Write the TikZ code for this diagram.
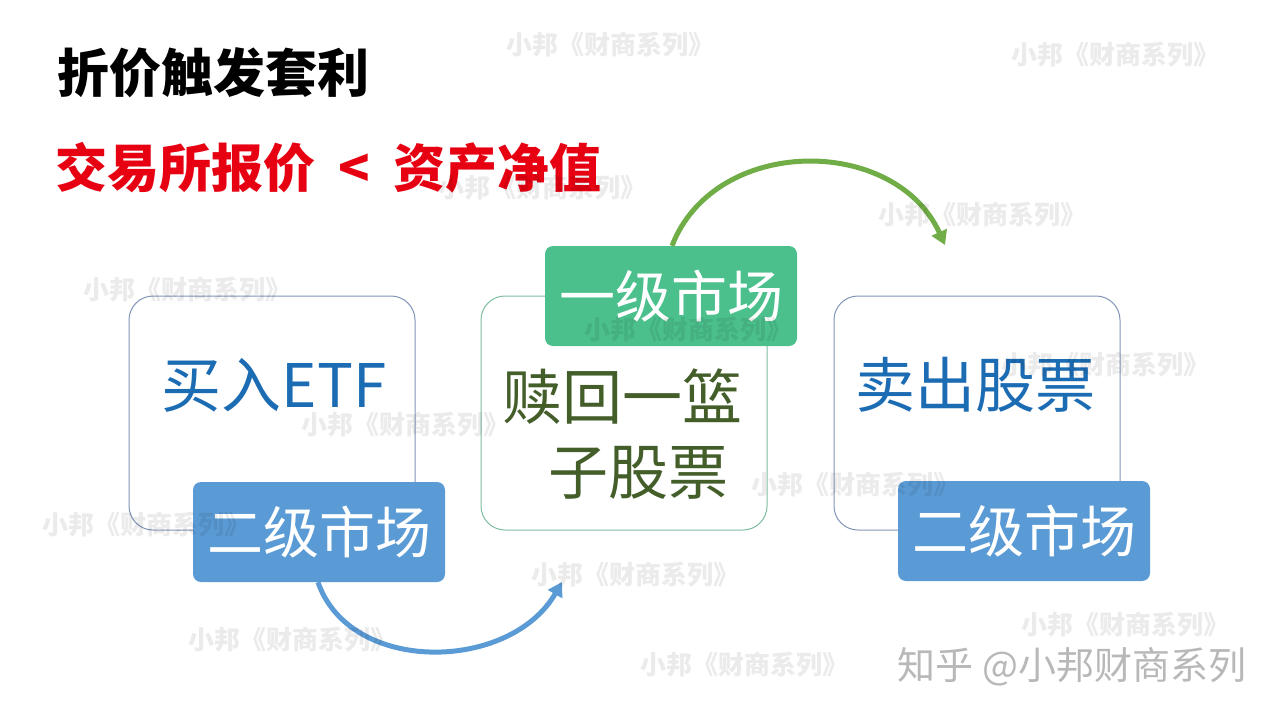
\documentclass[tikz,border=0pt]{standalone}
\usepackage{fontspec}
\newfontfamily\cjk{Noto Sans CJK SC}
\usepackage{xcolor}
\definecolor{tagblue}{RGB}{91,155,213}
\definecolor{taggreen}{RGB}{75,192,140}
\definecolor{arrgreen}{RGB}{112,173,71}
\definecolor{txtblue}{RGB}{28,108,180}
\definecolor{txtgreen}{RGB}{68,94,42}
\definecolor{hotred}{RGB}{230,0,18}
\definecolor{edgeblue}{RGB}{130,150,185}
\definecolor{edgegreen}{RGB}{125,190,160}
\usetikzlibrary{arrows.meta, positioning}

\begin{document}
\begin{tikzpicture}[x=1pt, y=-1pt,
    panel/.style={rectangle, draw=edgeblue, line width=1pt, fill=white,
      rounded corners=24pt, minimum width=286pt, minimum height=234pt},
    tag/.style={rectangle, fill=tagblue, text=white, rounded corners=8pt,
      minimum width=252pt, minimum height=100pt, inner sep=0pt,
      font=\cjk\fontsize{56}{60}\selectfont},
    bigtext/.style={font=\cjk\fontsize{60}{75}\selectfont, align=center, inner sep=0pt},
    headline/.style={anchor=west, inner sep=0pt, font=\cjk\bfseries\fontsize{52}{60}\selectfont},
    flow/.style={line width=5pt, -{Triangle[length=14pt, width=16pt]}},
    wmark/.style={text=black, opacity=0.08, inner sep=0pt,
      font=\cjk\bfseries\fontsize{26}{26}\selectfont}
  ]
    \useasboundingbox (0,0) rectangle (1280,720);
    \fill[white] (0,0) rectangle (1280,720);

    % headings
    \node[headline] (title) at (57,73) {折价触发套利};
    \node[headline, text=hotred] (cond) at (55,168)
      {交易所报价\hspace{0.45em}<\hspace{0.45em}资产净值};

    % three steps
    \node[panel] (buy) at (272,413) {};
    \node[panel, draw=edgegreen] (redeem) at (624,413) {};
    \node[panel] (sell) at (977,413) {};

    \node[bigtext, text=txtblue] (buytxt) at (274,385) {买入ETF};
    \node[bigtext, text=txtgreen] (redeemtxt) at (622,434) {赎回一篮\\\hspace*{0.55em}子股票};
    \node[bigtext, text=txtblue] (selltxt) at (975,385) {卖出股票};

    % market tags
    \node[tag] (sec1) at (319,532) {二级市场};
    \node[tag, fill=taggreen] (pri) at (671,296) {一级市场};
    \node[tag] (sec2) at (1024,531) {二级市场};

    % arrows
    \coordinate (into) at (562,582);
    \coordinate (over) at (945,245);
    \draw[flow, tagblue] ([xshift=-1pt]sec1.south) .. controls (350,675) and (510,672) .. (into);
    \draw[flow, arrgreen] ([xshift=1pt]pri.north) .. controls (715,135) and (895,135) .. (over);

    % watermarks
    \foreach \wx/\wy in {610/45, 1115/55, 542/188, 982/215, 187/290, 688/330,
        1105/365, 405/425, 855/485, 146/525, 635/575, 1125/625, 292/640, 744/665}
      \node[wmark] at (\wx,\wy) {小邦《财商系列》};
    \node[text=black!28, inner sep=0pt, font=\cjk\fontsize{38}{40}\selectfont]
      (zhihu) at (1072,667) {知乎 @小邦财商系列};
  \end{tikzpicture}
\end{document}
